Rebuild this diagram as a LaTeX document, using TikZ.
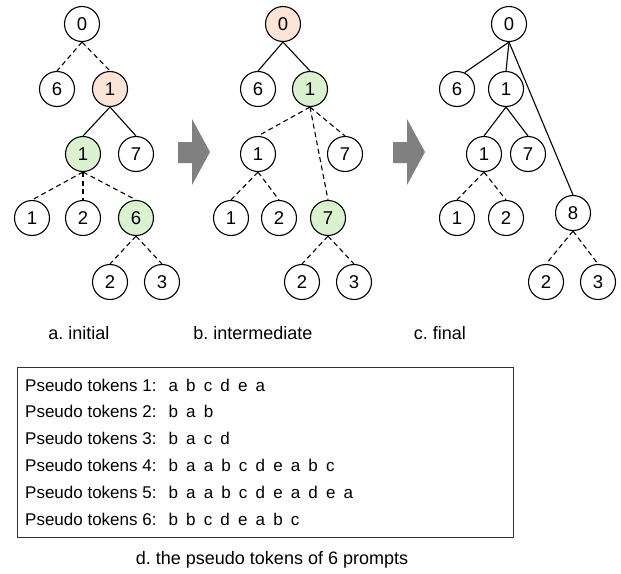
\documentclass[tikz,border=0pt]{standalone}
\usepackage{fontspec}
\setmainfont{Liberation Sans}
\frenchspacing
\definecolor{rootfill}{HTML}{FBE3D6}
\definecolor{matchfill}{HTML}{DAF2D0}
\definecolor{flowgray}{HTML}{808080}

\begin{document}
\begin{tikzpicture}
[x=1pt, y=-1pt,
font=\fontsize{18.5}{22}\selectfont,
state/.style={circle,draw,line width=1.1pt,minimum size=35pt,inner sep=0pt},
root/.style={state,fill=rootfill},
match/.style={state,fill=matchfill},
kept/.style={line width=1.1pt},
guess/.style={line width=1.1pt,dash pattern=on 5pt off 3.5pt},
flow/.style={fill=flowgray},
caption/.style={font=\fontsize{18}{22}\selectfont},
tokline/.style={anchor=base west,inner sep=0pt,font=\fontsize{17}{20}\selectfont}]
\useasboundingbox (0,0) rectangle (621,573);

% a. initial
\node[state] (a0) at (82,24) {0};
\node[state] (a6) at (57,89) {6};
\node[root] (a1) at (110,89) {1};
\node[match] (a11) at (83,154) {1};
\node[state] (a17) at (136,154) {7};
\node[state] (a111) at (32,218) {1};
\node[state] (a112) at (83,218) {2};
\node[match] (a116) at (136,218) {6};
\node[state] (a1162) at (110,282) {2};
\node[state] (a1163) at (162,282) {3};
\draw[guess] (a0.south) edge (a6.north) edge (a1.north);
\draw[kept] (a1.south) edge (a11.north) edge (a17.north);
\draw[guess] (a11.south) edge (a111.north) edge (a112.north) edge (a116.north);
\draw[guess] (a116.south) edge (a1162.north) edge (a1163.north);

% b. intermediate
\node[root] (b0) at (283,24) {0};
\node[state] (b6) at (258,89) {6};
\node[match] (b1) at (310,89) {1};
\node[state] (b11) at (258,154) {1};
\node[state] (b17) at (345,154) {7};
\node[state] (b111) at (231,218) {1};
\node[state] (b112) at (279,218) {2};
\node[match] (b7) at (328,218) {7};
\node[state] (b72) at (302,282) {2};
\node[state] (b73) at (354,282) {3};
\draw[kept] (b0.south) edge (b6.north) edge (b1.north);
\draw[guess] (b1.south) edge (b11.north) edge (b17.north) edge (b7.north);
\draw[guess] (b11.south) edge (b111.north) edge (b112.north);
\draw[guess] (b7.south) edge (b72.north) edge (b73.north);

% c. final
\node[state] (c0) at (509,24) {0};
\node[state] (c6) at (457,89) {6};
\node[state] (c1) at (506,89) {1};
\node[state] (c11) at (484,154) {1};
\node[state] (c17) at (528,154) {7};
\node[state] (c111) at (457,218) {1};
\node[state] (c112) at (506,218) {2};
\node[state] (c8) at (573,213) {8};
\node[state] (c82) at (546,282) {2};
\node[state] (c83) at (598,282) {3};
\draw[kept] (c0.south) edge (c6.65) edge (c1.north) edge (c8.north);
\draw[kept] (c1.south) edge (c11.north) edge (c17.north);
\draw[guess] (c11.south) edge (c111.north) edge (c112.north);
\draw[guess] (c8.south) edge (c82.north) edge (c83.north);

% step arrows
\foreach \dx in {0,215}
  \fill[flow,xshift=\dx pt] (178,142) -- (192,142) -- (192,119) -- (210,152)
    -- (192,185) -- (192,163) -- (178,163) -- cycle;

\node[caption] (capa) at (79,333) {a. initial};
\node[caption] (capb) at (253,333) {b. intermediate};
\node[caption] (capc) at (440,333) {c. final};

% prompts
\draw[line width=0.9pt,black!80] (17,367) rectangle (513,537);
\foreach \n/\seq in {1/a b c d e a, 2/b a b, 3/b a c d, 4/b a a b c d e a b c,
    5/b a a b c d e a d e a, 6/b b c d e a b c}
  \node[tokline] (tok\n) at (25,{391+26.8*(\n-1)})
    {Pseudo tokens \n:\hspace{12pt}{\spaceskip=0.48em\relax\seq}};
\node[caption] (capd) at (272,560) {d. the pseudo tokens of 6 prompts};
\end{tikzpicture}
\end{document}
